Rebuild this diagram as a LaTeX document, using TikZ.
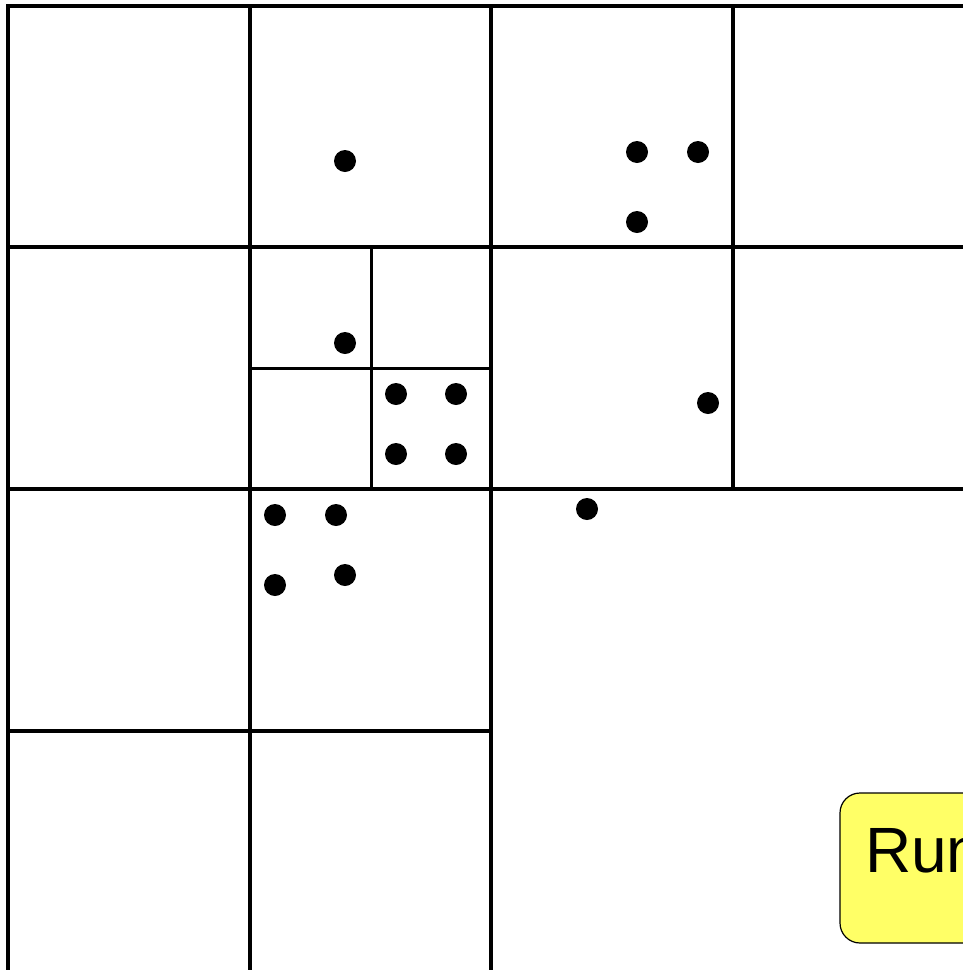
\documentclass[tikz,border=0pt]{standalone}
\usepackage{fontspec}
\setmainfont{Liberation Sans}
\definecolor{btnyellow}{HTML}{FFFF66}
\tikzset{
  gridline/.style={line width=3.5pt, line cap=rect},
  subline/.style={line width=3pt},
  pt/.style={fill=black, draw=none},
}
\begin{document}
\begin{tikzpicture}[x=1pt,y=-1pt]
\useasboundingbox (0,0) rectangle (963,970);
\clip (0,0) rectangle (963,970);
% outer grid
\draw[gridline] (8,6) -- (970,6);
\draw[gridline] (8,6) -- (8,975);
\draw[gridline] (250,6) -- (250,975);
\draw[gridline] (491,6) -- (491,975);
\draw[gridline] (733,6) -- (733,489);
\draw[gridline] (8,247) -- (970,247);
\draw[gridline] (8,489) -- (970,489);
\draw[gridline] (8,731) -- (491,731);
% subdivision
\draw[subline] (371,247) -- (371,489);
\draw[subline] (250,368) -- (491,368);
% points
\foreach \p in {(345,161),(637,152),(698,152),(637,222),(345,343),
  (396,394),(456,394),(396,454),(456,454),(708,403),(587,509),
  (275,515),(336,515),(275,585),(345,575)}
  \fill[pt] \p circle (11);
% Run button
\draw[fill=btnyellow, line width=1.2pt, rounded corners=20pt] (840,793) rectangle (1040,943);
\node[anchor=base west, inner sep=0pt, font=\fontsize{64}{64}\selectfont] (run) at (865,872) {Run};
\end{tikzpicture}
\end{document}
